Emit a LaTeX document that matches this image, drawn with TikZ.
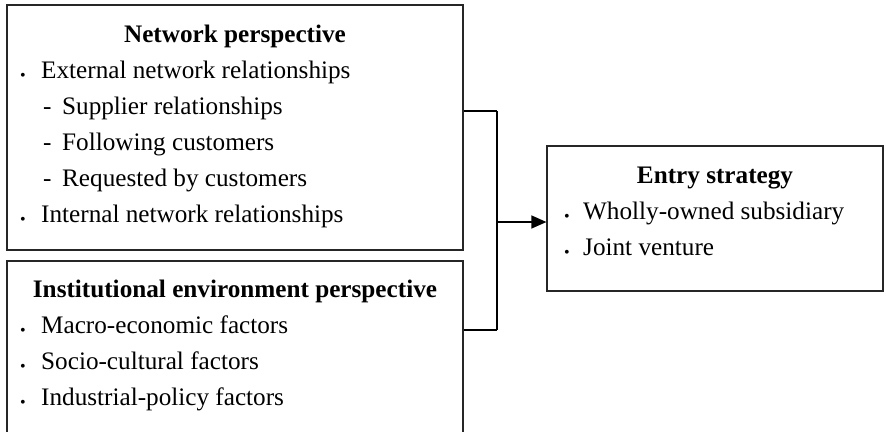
\documentclass[tikz,border=0pt]{standalone}
\usepackage{fontspec}
\setmainfont{Liberation Serif}
\usetikzlibrary{arrows.meta,positioning}

\newcommand\fsz{\fontsize{25.2}{36}\selectfont}
\newcommand\itembul[1][21pt]{\makebox[#1][l]{\raisebox{-2pt}{\fontsize{16}{16}\selectfont\textbullet}}}
\newcommand\itemdsh{\makebox[19pt][l]{-}}

\begin{document}
\begin{tikzpicture}[x=1pt,y=-1pt,>={Triangle[length=15pt,width=13pt]}]
			\tikzstyle{box}=[draw=black!85,line width=1.2pt,inner sep=0pt]
			\tikzstyle{head}=[font=\fsz\bfseries,anchor=base,inner sep=0pt]
			\tikzstyle{item}=[font=\fsz,anchor=base west,inner sep=0pt]
			\clip (0,0) rectangle (886,431);
			% boxes
			\node[box,minimum width=456pt,minimum height=245pt] (net)   at (235,127.5) {};
			\node[box,minimum width=456pt,minimum height=189pt] (inst)  at (235,355.5) {};
			\node[box,minimum width=336pt,minimum height=145pt] (entry) at (715,218.5) {};
			% network perspective
			\node[head] (netT) at (235,42)  {Network perspective};
			\node[item] (ext)  at (20,78)   {\itembul External network relationships};
			\node[item] (sup)  at (43,114)  {\itemdsh Supplier relationships};
			\node[item] (fol)  at (43,150)  {\itemdsh Following customers};
			\node[item] (req)  at (43,186)  {\itemdsh Requested by customers};
			\node[item] (int)  at (20,222)  {\itembul Internal network relationships};
			% institutional environment perspective
			\node[head] (instT) at (235,297) {Institutional environment perspective};
			\node[item] (mac)   at (20,333)  {\itembul Macro-economic factors};
			\node[item] (soc)   at (20,369)  {\itembul Socio-cultural factors};
			\node[item] (ind)   at (20,405)  {\itembul Industrial-policy factors};
			% entry strategy
			\node[head] (entryT) at (715,183) {Entry strategy};
			\node[item] (who)    at (564,219) {\itembul[19pt]Wholly-owned subsidiary};
			\node[item] (jv)     at (564,255) {\itembul[19pt]Joint venture};
			% connector
			\coordinate (jt) at (497,111);
			\coordinate (jb) at (497,330);
			\coordinate (jm) at (497,222);
			\draw[line width=1.2pt] (net.east |- jt) -- (jt);
			\draw[line width=1.2pt] (inst.east |- jb) -- (jb);
			\draw[line width=2.2pt] (jt) -- (jb);
			\draw[->,line width=1.2pt] (jm) -- (entry.west |- jm);
		\end{tikzpicture}
\end{document}
